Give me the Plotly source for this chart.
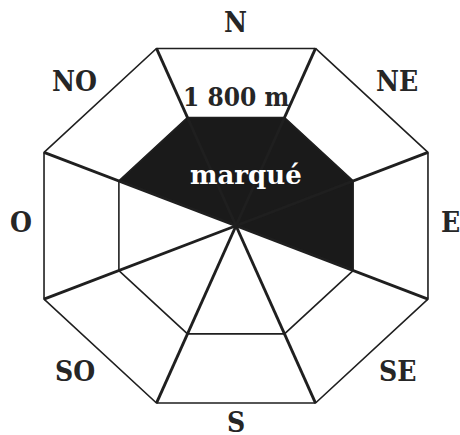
import numpy as np
import plotly.graph_objects as go

# ---- data ----
directions = ["N", "NE", "E", "SE", "S", "SO", "O", "NO"]
bearings = [0, 45, 90, 135, 180, 225, 270, 315]          # compass bearing of each sector
marked = [1, 1, 1, 0, 0, 0, 0, 1]                         # sectors marked below the level ring
ring_levels = [0.61, 1.0]                                 # relative radius: 1 800 m ring, outer limit
level_label = "1 800 m"
zone_label = "marqué"

# ---- style ----
INK = "#1f1f1f"
FONT = "DejaVu Serif Condensed, DejaVu Serif"
HALF = 22.5
# label placement (x radius, y radius, vertical pixel shift) for cardinal / diagonal labels
LBL_CARD = (1.033, 1.041, 3)
LBL_DIAG = (1.099, 1.067, -1)

def pt(r, b, ry=None):
    a = np.radians(b)
    return r * np.sin(a), (r if ry is None else ry) * np.cos(a)

def octagon(r):
    xs, ys = [], []
    for b in bearings + [bearings[0]]:
        x, y = pt(r, b + HALF)
        xs.append(x); ys.append(y)
    return xs, ys

r_in, r_out = ring_levels
fig = go.Figure()

# marked sectors (inner ring)
fx, fy = [], []
for b, m in zip(bearings, marked):
    if m:
        x1, y1 = pt(r_in, b - HALF)
        x2, y2 = pt(r_in, b + HALF)
        fx += [0, x1, x2, 0, None]
        fy += [0, y1, y2, 0, None]
fig.add_trace(go.Scatter(x=fx, y=fy, mode="lines", fill="toself", fillcolor="#1a1a1a",
                         line=dict(color="#1a1a1a", width=0.5), hoverinfo="skip"))

# rings
for r in ring_levels:
    ox, oy = octagon(r)
    fig.add_trace(go.Scatter(x=ox, y=oy, mode="lines", line=dict(color=INK, width=1.6),
                             hoverinfo="skip"))

# spokes
sx, sy = [], []
for b in bearings:
    x, y = pt(r_out, b + HALF)
    sx += [0, x, None]
    sy += [0, y, None]
fig.add_trace(go.Scatter(x=sx, y=sy, mode="lines", line=dict(color=INK, width=2.9),
                         hoverinfo="skip"))

# direction labels
for d, b in zip(directions, bearings):
    rx, ry, ys = LBL_CARD if b % 90 == 0 else LBL_DIAG
    x, y = pt(rx, b, ry)
    fig.add_annotation(x=x, y=y, text=d, showarrow=False, yshift=ys,
                       font=dict(family=FONT, size=28, color="#262626", weight="bold"),
                       xanchor="center", yanchor="middle")

# level label
_, ytop = pt(r_in, HALF)
fig.add_annotation(x=0, y=ytop, text=level_label, showarrow=False, yanchor="bottom", yshift=4,
                   font=dict(family=FONT, size=26, color="#262626", weight="bold"))

# zone label
zx, zy = pt(0.27, 10)
fig.add_annotation(x=zx, y=zy, text=zone_label, showarrow=False,
                   font=dict(family="DejaVu Serif", size=26, color="white", weight="bold"))

fig.update_layout(
    width=460, height=435, margin=dict(l=0, r=0, t=0, b=0),
    paper_bgcolor="white", plot_bgcolor="white", showlegend=False,
    xaxis=dict(range=[-1.1357, 1.0780], visible=False, fixedrange=True),
    yaxis=dict(range=[-1.0904, 1.1764], visible=False, fixedrange=True),
)
fig.write_html("out.html", config={"displayModeBar": False},
               post_script="document.body.style.margin='0';document.body.style.overflow='hidden';")
